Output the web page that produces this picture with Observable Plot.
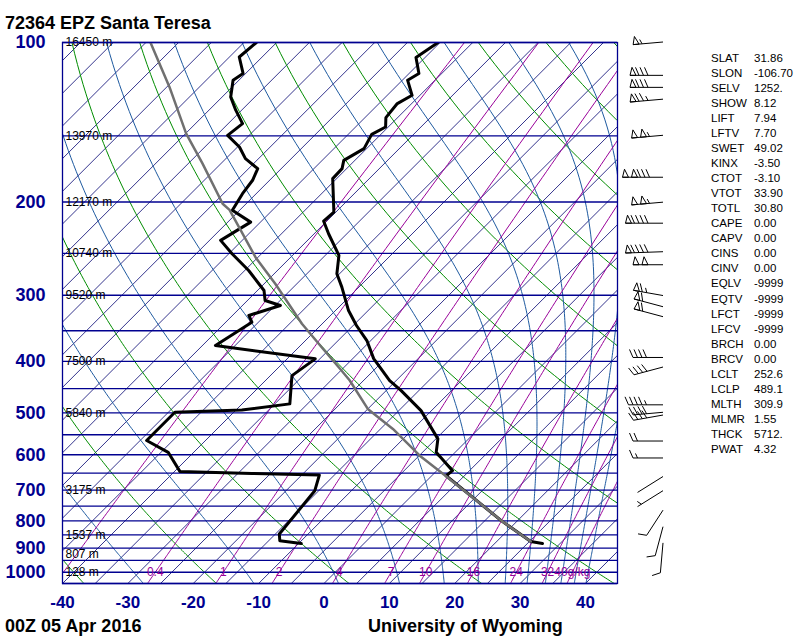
<!DOCTYPE html>
<html><head><meta charset="utf-8">
<script src="https://cdn.jsdelivr.net/npm/d3@7"></script>
<script src="https://cdn.jsdelivr.net/npm/@observablehq/plot@0.6"></script>
<style>
body{margin:0;background:#fff;}
#wrap{position:relative;width:800px;height:640px;}
svg{font-family:"Liberation Sans",Arial,Helvetica,sans-serif;}
</style></head><body><div id="wrap"></div>
<script>
// ---------------- data ----------------
const title = "72364 EPZ Santa Teresa";
const footLeft = "00Z 05 Apr 2016";
const footRight = "University of Wyoming";

const pTicks = [100,200,300,400,500,600,700,800,900,1000];
const tTicks = [-40,-30,-20,-10,0,10,20,30,40];
const isobars = [100,150,200,250,300,350,400,450,500,550,600,650,700,750,800,850,900,950,1000,1050];

const hgtP = [100,150,200,250,300,400,500,700,850,925,1000];
const hgtM = [16450,13970,12170,10740,9520,7500,5840,3175,1537,807,128];

// temperature sounding
const tempP = [100,106.7,114.4,117.8,125.8,130.4,138.6,144.4,149.1,158.6,166.9,173.0,180.7,209.0,217.3,229.6,252.3,273.3,289.6,320.6,342.1,365.3,395.1,434.6,454,495.3,560,593.7,643,657.4,727,799,874.6,882.3];
const tempT = [-65.3,-66.4,-63.5,-64.2,-61.2,-62.2,-61.8,-60.4,-61.4,-60.4,-61.7,-60.7,-60.6,-55.3,-55.5,-52.8,-47.9,-45.4,-42.6,-38.0,-34.5,-30.6,-26.8,-21.0,-17.7,-11.6,-4.7,-2.9,2.4,2.2,10.1,17.5,25.2,27.3];
// dewpoint sounding
const dewP = [100,106.5,114.4,117.8,126.7,134.2,142.3,149.7,157.5,165.7,173,182,192.9,207.4,218.3,236.3,250.5,269.4,293.8,306.9,313.6,327.5,337.3,373.3,395.5,425.4,481,493.9,498.9,564,593.7,645,650.7,655.3,701.5,846.8,871.9,882.3];
const dewT = [-93.1,-93.5,-90.4,-90.9,-88.7,-85.9,-82.8,-83.3,-79.7,-77.0,-73.6,-72.6,-72.1,-71.1,-66.5,-68.3,-64.5,-59.4,-54.0,-52.3,-49.2,-52.5,-51.0,-53.0,-35.7,-36.7,-32.7,-39.1,-49.0,-49.0,-43.9,-39.2,-27.9,-17.3,-15.6,-14.4,-13.3,-9.6];
// lifted parcel path
const parP = [100,121.3,148.6,169.3,201.5,207,254.2,285.4,339.6,376,416.1,434.6,491.7,536.3,602.4,662.2,727,799,874.6];
const parT = [-109.3,-99.6,-89.9,-82.8,-73.6,-71.6,-60.4,-53.3,-43.1,-36.5,-29.9,-27.1,-20.0,-13.1,-4.9,2.7,10.1,17.5,25.2];

// winds (hPa, direction deg, speed kt)
const windP = [100,115.6,121.8,128.2,150,180,200.6,219.8,248.8,263.3,301,316,330,394,410.7,484,500,506,566.5,609.8,661,703,765,822,882];
const windD = [265,270,270,265,265,270,265,270,268,270,280,285,285,270,255,270,265,260,270,270,238,238,213,195,185];
const windS = [55,80,80,75,105,130,105,90,90,100,65,60,60,40,40,45,40,40,20,15,3,5,10,10,10];

// background families
const isothermT = d3.range(-130, 50, 5);
const dryThetaC = d3.range(-40, 200, 20);
const moistThetaEC = d3.range(-30, 200, 20);
const mixW = [0.1,0.4,1,2,4,7,10,16,24,32,40];
const mixLabel = ["","0.4","1","2","4","7","10","16","24","32","40g/kg"];

const idxName = ["SLAT","SLON","SELV","SHOW","LIFT","LFTV","SWET","KINX","CTOT","VTOT","TOTL","CAPE","CAPV","CINS","CINV","EQLV","EQTV","LFCT","LFCV","BRCH","BRCV","LCLT","LCLP","MLTH","MLMR","THCK","PWAT"];
const idxVal = ["31.86","-106.70","1252.","8.12","7.94","7.70","49.02","-3.50","-3.10","33.90","30.80","0.00","0.00","0.00","0.00","-9999","-9999","-9999","-9999","0.00","0.00","252.6","489.1","309.9","1.55","5712.","4.32"];

// ---------------- thermodynamics ----------------
const K = 81.04; // skew (deg C per decade of pressure)
const skewX = (T, p) => T + K * Math.log10(1050 / p);
const pGrid = d3.range(100, 1050.1, 5);
function tdFromW(w, p) { const e = w * p / (622 + w); const L = Math.log(e / 6.112); return 243.5 * L / (17.67 - L); }
function thetaE(TK, p) {
  const Tc = TK - 273.15; const es = 6.112 * Math.exp(17.67 * Tc / (Tc + 243.5));
  if (es > 0.5 * p) return 1e9;
  const r = 622 * es / (p - es);
  return TK * Math.pow(1000 / p, 0.2854 * (1 - 0.00028 * r)) * Math.exp((3.376 / TK - 0.00254) * r * (1 + 0.00081 * r));
}
function tFromThetaE(te, p) { let lo = 120, hi = 350; for (let i = 0; i < 60; i++) { const m = (lo + hi) / 2; if (thetaE(m, p) < te) lo = m; else hi = m; } return (lo + hi) / 2 - 273.15; }

const isoLines = isothermT.flatMap(T => [100, 1050].map(p => ({k: T, p, x: skewX(T, p)})));
const dryLines = dryThetaC.flatMap(th => pGrid.map(p => ({k: th, p, x: skewX((th + 273.15) * Math.pow(p / 1000, 0.2857) - 273.15, p)})));
const moistLines = moistThetaEC.flatMap(te => pGrid.map(p => ({k: te, p, x: skewX(tFromThetaE(te + 273.15, p), p)})));
const mixLines = mixW.flatMap(w => pGrid.map(p => ({k: w, p, x: skewX(tdFromW(w, p), p)})));
const mixLab = mixW.map((w, i) => ({p: 1000, x: skewX(tdFromW(w, 1000), 1000), t: mixLabel[i]})).filter(d => d.t);

const tempData = tempP.map((p, i) => ({p, x: skewX(tempT[i], p)}));
const dewData = dewP.map((p, i) => ({p, x: skewX(dewT[i], p)}));
const parData = parP.map((p, i) => ({p, x: skewX(parT[i], p)}));
const hgtData = hgtP.map((p, i) => ({p, t: hgtM[i] + " m"}));

const NAVY = "#000090";
const plot = Plot.plot({
  width: 800, height: 640,
  marginLeft: 62, marginRight: 183, marginTop: 42, marginBottom: 57,
  x: {domain: [-40, 44.9], axis: null},
  y: {type: "log", domain: [1050, 100], axis: null},
  style: {background: "white", fontFamily: "Liberation Sans, Arial, sans-serif"},
  marks: [
    Plot.line(isoLines, {x: "x", y: "p", z: "k", stroke: "#000070", strokeWidth: 0.8, clip: true}),
    Plot.line(dryLines, {x: "x", y: "p", z: "k", stroke: "#008c00", strokeWidth: 1, clip: true}),
    Plot.line(moistLines, {x: "x", y: "p", z: "k", stroke: "#1e5aa0", strokeWidth: 1, clip: true}),
    Plot.line(mixLines, {x: "x", y: "p", z: "k", stroke: "#990099", strokeWidth: 1, clip: true}),
    Plot.ruleY(isobars, {stroke: NAVY, strokeWidth: 1.3}),
    Plot.text(mixLab, {x: "x", y: "p", text: "t", fill: "#990099", fontSize: 12}),
    Plot.text(hgtData, {y: "p", text: "t", frameAnchor: "left", textAnchor: "start", dx: 3, fontSize: 12, fill: "black"}),
    Plot.line(tempData, {x: "x", y: "p", stroke: "black", strokeWidth: 3, clip: true}),
    Plot.line(dewData, {x: "x", y: "p", stroke: "black", strokeWidth: 3, clip: true}),
    Plot.line(parData, {x: "x", y: "p", stroke: "#707070", strokeWidth: 2.5, clip: true}),
    Plot.frame({stroke: NAVY, strokeWidth: 1.3}),
    Plot.axisY(pTicks, {anchor: "left", label: null, tickSize: 0, tickPadding: 17, fontSize: 18, fontWeight: "bold", fill: NAVY, tickFormat: d => String(d)}),
    Plot.axisX(tTicks, {anchor: "bottom", label: null, tickSize: 0, tickPadding: 12, fontSize: 17, fontWeight: "bold", fill: NAVY, tickFormat: d => String(d)})
  ]
});
document.getElementById("wrap").appendChild(plot);

// extra annotations and wind barbs, positioned with the plot's own y scale
const svg = d3.select(plot);
const ys = plot.scale("y");
const gt = svg.append("g").attr("text-anchor", "start").attr("font-size", 18).attr("font-weight", "bold").attr("fill", "black");
gt.append("text").attr("x", 5).attr("y", 29).text(title);
gt.append("text").attr("x", 5).attr("y", 632).text(footLeft);
gt.append("text").attr("x", 368).attr("y", 632).text(footRight);
const gi = svg.append("g").attr("text-anchor", "start").attr("font-size", 11.5).attr("fill", "black");
idxName.forEach((n, i) => {
  gi.append("text").attr("x", 711).attr("y", 61.7 + 15.05 * i).text(n);
  gi.append("text").attr("x", 754).attr("y", 61.7 + 15.05 * i).text(idxVal[i]);
});

const gb = svg.append("g").attr("stroke", "black").attr("stroke-width", 1).attr("fill", "none");
const X0 = 663;
windP.forEach((p, i) => {
  const y0 = ys.apply(p);
  const a = windD[i] * Math.PI / 180;
  const ux = Math.sin(a), uy = -Math.cos(a);
  const nx = -uy, ny = ux;
  let s = windS[i];
  const nP = Math.floor(s / 50); s -= nP * 50;
  const nF = Math.floor(s / 10); s -= nF * 10;
  const nH = s >= 5 ? 1 : 0;
  const need = nP * 7.5 + nF * 4.5 + nH * 4.5 + 12;
  const L = Math.max(30, need);
  const pt = d => [X0 + ux * d, y0 + uy * d];
  let path = `M${X0},${y0}L${pt(L).join(",")}`;
  let d = L;
  for (let k = 0; k < nP; k++) {
    const b0 = pt(d), b1 = pt(d - 6);
    const ap = pt(d - 2);
    path += `M${b0.join(",")}L${ap[0] + nx * 8},${ap[1] + ny * 8}L${b1.join(",")}Z`;
    d -= 9;
  }
  for (let k = 0; k < nF; k++) {
    const b = pt(d);
    path += `M${b.join(",")}L${b[0] + nx * 8 + ux * 3.5},${b[1] + ny * 8 + uy * 3.5}`;
    d -= 4.5;
  }
  if (nH) {
    if (nP === 0 && nF === 0) d -= 4.5;
    const b = pt(d);
    path += `M${b.join(",")}L${b[0] + nx * 4.5 + ux * 2},${b[1] + ny * 4.5 + uy * 2}`;
  }
  gb.append("path").attr("d", path);
});
</script>
</body></html>
